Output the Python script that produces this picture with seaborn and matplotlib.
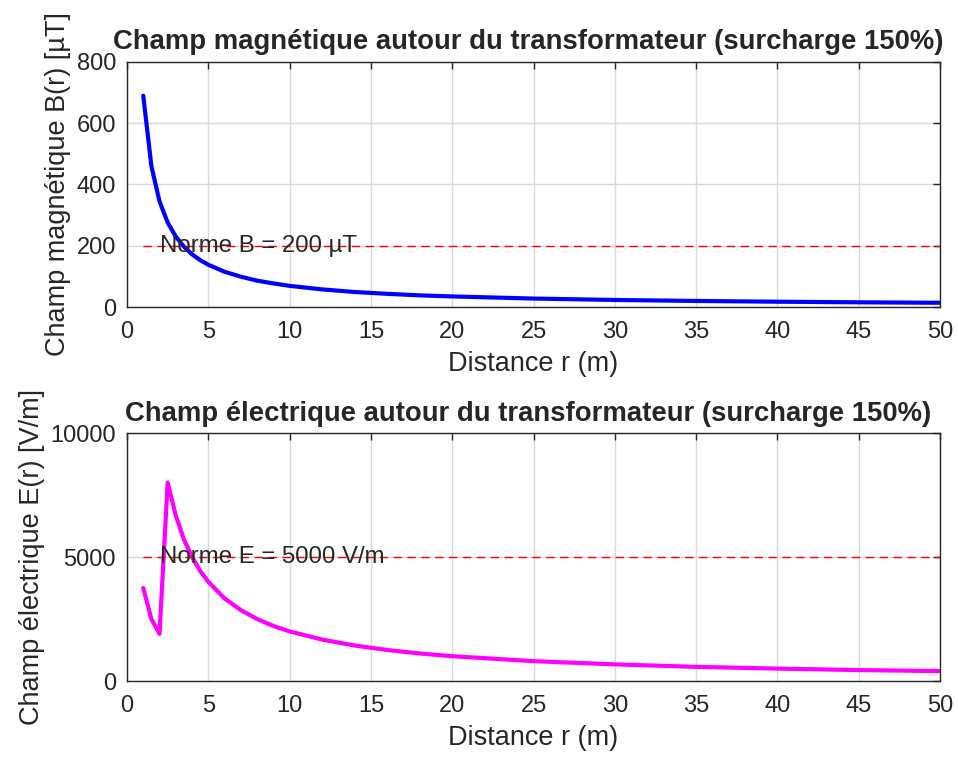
import matplotlib
matplotlib.use("Agg")
import matplotlib.pyplot as plt
import seaborn as sns
import pandas as pd

r_m = [1, 1.5, 2, 2.5, 3, 3.5, 4, 4.5, 5, 6, 7, 8, 9, 10, 12, 14, 16, 18, 20,
       25, 30, 35, 40, 45, 50]
B_uT = [690, 460, 345, 276, 230, 197, 172, 153, 138, 115, 99, 86, 77, 69, 57.5,
        49, 43, 38, 34.5, 27.6, 23, 19.7, 17.3, 15.3, 13.8]
E_Vm = [3750, 2500, 1900, 8000, 6670, 5710, 5000, 4440, 4000, 3330, 2860, 2500,
        2220, 2000, 1670, 1430, 1250, 1110, 1000, 800, 670, 570, 500, 440, 400]
B_limit = 200
E_limit = 5000
limit_x = [1, 50]

sns.set_style("white")
plt.rcParams['font.family'] = ['Liberation Sans', 'DejaVu Sans']
plt.rcParams['xtick.direction'] = 'in'
plt.rcParams['ytick.direction'] = 'in'

df = pd.DataFrame({"r": r_m, "B": B_uT, "E": E_Vm})

fig = plt.figure(figsize=(9.58, 7.63), dpi=100)
W, H = 958, 763
ax1 = fig.add_axes([127 / W, 1 - 307 / H, (940 - 127) / W, (307 - 62) / H])
ax2 = fig.add_axes([127 / W, 1 - 681 / H, (940 - 127) / W, (681 - 433) / H])

TICK = 17
LAB = 19.5
TITLE = 19.8
TITLE_X = 0.5 - 5 / 813

def style(ax, ylim, yticks):
    ax.set_xlim(0, 50)
    ax.set_ylim(*ylim)
    ax.set_xticks(range(0, 51, 5))
    ax.set_yticks(yticks)
    ax.grid(True, color='#d9d9d9', linewidth=1)
    ax.set_axisbelow(True)
    for s in ax.spines.values():
        s.set_color('#262626')
        s.set_linewidth(1)
    ax.tick_params(axis='both', which='both', labelsize=TICK, colors='#262626',
                   length=5, width=1, top=True, right=True)
    ax.tick_params(axis='x', pad=10)
    ax.tick_params(axis='y', pad=8)

sns.lineplot(data=df, x="r", y="B", ax=ax1, color='#0000ff', linewidth=3)
sns.lineplot(x=limit_x, y=[B_limit, B_limit], ax=ax1, color='#ff0000',
             linestyle=(0, (6, 4)), linewidth=1)
ax1.text(2, B_limit, "Norme B = 200 µT", fontsize=TICK + 0.3, va='center', ha='left')
style(ax1, (0, 800), [0, 200, 400, 600, 800])
ax1.set_title("Champ magnétique autour du transformateur (surcharge 150%)",
              fontsize=TITLE, fontweight='bold', pad=9, x=TITLE_X)
ax1.set_xlabel("Distance r (m)", fontsize=LAB, color='#262626', labelpad=6)
ax1.set_ylabel("Champ magnétique B(r) [µT]", fontsize=LAB, color='#262626')

sns.lineplot(data=df, x="r", y="E", ax=ax2, color='#ff00ff', linewidth=3)
sns.lineplot(x=limit_x, y=[E_limit, E_limit], ax=ax2, color='#ff0000',
             linestyle=(0, (6, 4)), linewidth=1)
ax2.text(2, E_limit, "Norme E = 5000 V/m", fontsize=TICK + 0.3, va='center', ha='left')
style(ax2, (0, 10000), [0, 5000, 10000])
ax2.set_title("Champ électrique autour du transformateur (surcharge 150%)",
              fontsize=TITLE, fontweight='bold', pad=9, x=TITLE_X)
ax2.set_xlabel("Distance r (m)", fontsize=LAB, color='#262626', labelpad=6)
ax2.set_ylabel("Champ électrique E(r) [V/m]", fontsize=LAB, color='#262626')

fig.savefig("out.png", dpi=100)
